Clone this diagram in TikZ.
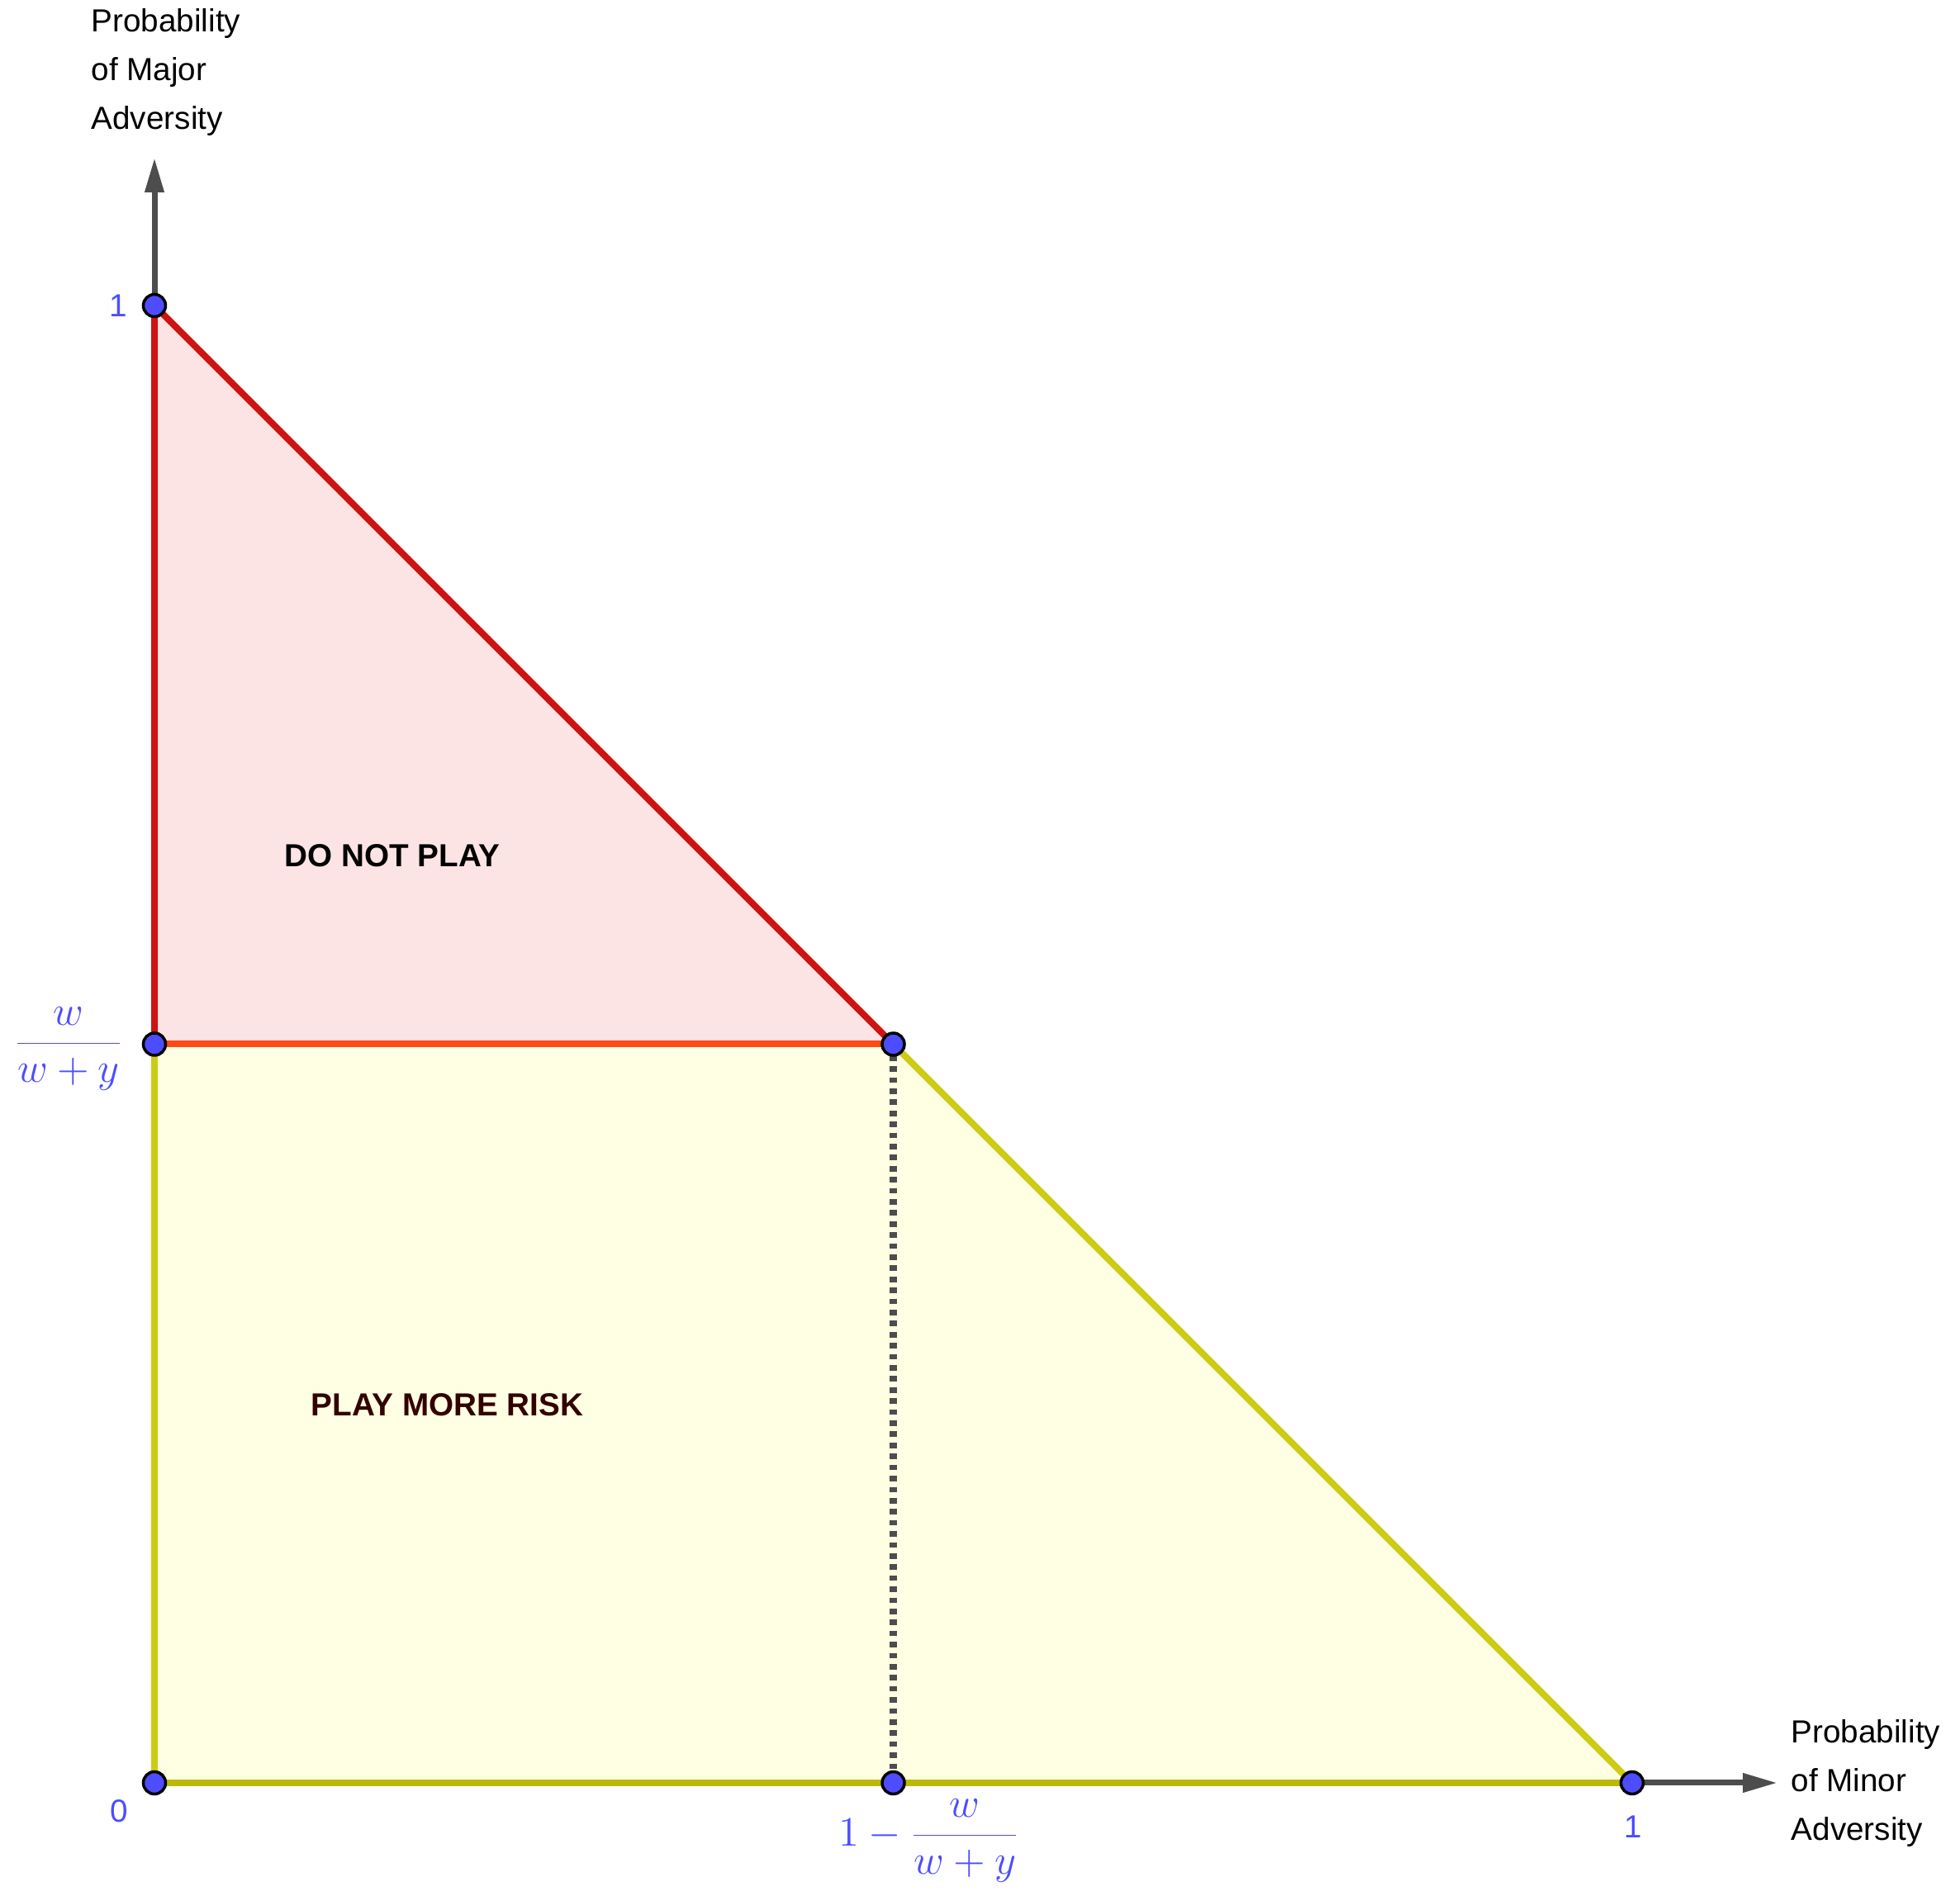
\documentclass[tikz,border=0pt]{standalone}
\usepackage[no-math]{fontspec}
\setmainfont{Liberation Sans}
\usetikzlibrary{arrows.meta}
\definecolor{ptblue}{RGB}{77,77,255}
\definecolor{redline}{RGB}{204,20,20}
\definecolor{orangeline}{RGB}{255,74,22}
\definecolor{yellowline}{RGB}{204,204,20}
\definecolor{oliveline}{RGB}{188,184,8}
\definecolor{pinkfill}{RGB}{253,228,228}
\definecolor{yellowfill}{RGB}{255,255,228}
\definecolor{axisgray}{RGB}{77,77,77}
\definecolor{darkbrown}{RGB}{51,0,0}
\begin{document}
\begin{tikzpicture}[x=1cm,y=1cm,
  ptnode/.style={circle,fill=ptblue,draw=black,line width=0.035cm,minimum size=0.27cm,inner sep=0},
  axisline/.style={axisgray,line width=0.07cm,-{Triangle[length=0.42cm,width=0.22cm]}},
  edgeline/.style={line width=0.08cm},
  numlbl/.style={text=ptblue,font=\fontsize{11}{13}\selectfont,inner sep=0},
  fraclbl/.style={text=ptblue,font=\fontsize{13.7}{16}\selectfont,inner sep=0,anchor=base},
  axlbl/.style={align=left,anchor=north west,inner sep=0,font=\fontsize{11}{16.8}\selectfont},
  regionlbl/.style={font=\bfseries\fontsize{11}{13}\selectfont,inner sep=0,anchor=base}]
\path[use as bounding box,fill=white] (0,0) rectangle (23.73,22.95);
% geometry
\coordinate (O) at (1.87,1.36);
\coordinate (X1) at (19.76,1.36);
\coordinate (Y1) at (1.87,19.25);
\coordinate (L) at (1.87,10.305);
\coordinate (M) at (10.815,10.305);
\coordinate (B) at (10.815,1.36);
\coordinate (XT) at (21.52,1.36);
\coordinate (YT) at (1.87,21.04);
% regions
\fill[pinkfill] (Y1) -- (L) -- (M) -- cycle;
\fill[yellowfill] (L) -- (M) -- (X1) -- (O) -- cycle;
% axes
\draw[axisline] (O) -- (XT);
\draw[axisline] (O) -- (YT);
% edges
\draw[edgeline,yellowline] (L) -- (O);
\draw[edgeline,yellowline] (M) -- (X1);
\draw[edgeline,oliveline] (O) -- (X1);
\draw[edgeline,redline] (L) -- (Y1) -- (M);
\draw[edgeline,orangeline] (L) -- (M);
\draw[axisgray,line width=0.09cm,dash pattern=on 0.067cm off 0.067cm] (M) -- (B);
% points
\node[ptnode] (pO) at (O) {};
\node[ptnode] (pX1) at (X1) {};
\node[ptnode] (pY1) at (Y1) {};
\node[ptnode] (pL) at (L) {};
\node[ptnode] (pM) at (M) {};
\node[ptnode] (pB) at (B) {};
% labels
\node[numlbl] (l1y) at (1.43,19.25) {1};
\node[numlbl] (l0) at (1.44,1.02) {0};
\node[numlbl] (l1x) at (19.77,0.83) {1};
\node[fraclbl] (lfrac) at (0.83,10.19) {$\displaystyle\frac{w}{w+y}$};
\node[fraclbl] (bfrac) at (11.25,0.60) {$\displaystyle 1-\frac{w}{w+y}$};
\node[axlbl] (ylab) at (1.10,22.85) {Probability\\of Major\\Adversity};
\node[axlbl] (xlab) at (21.68,2.13) {Probability\\of Minor\\Adversity};
\node[regionlbl] (dnp) at (4.75,12.45) {DO NOT PLAY};
\node[regionlbl,text=darkbrown] (pmr) at (5.415,5.80) {PLAY MORE RISK};
\end{tikzpicture}
\end{document}
